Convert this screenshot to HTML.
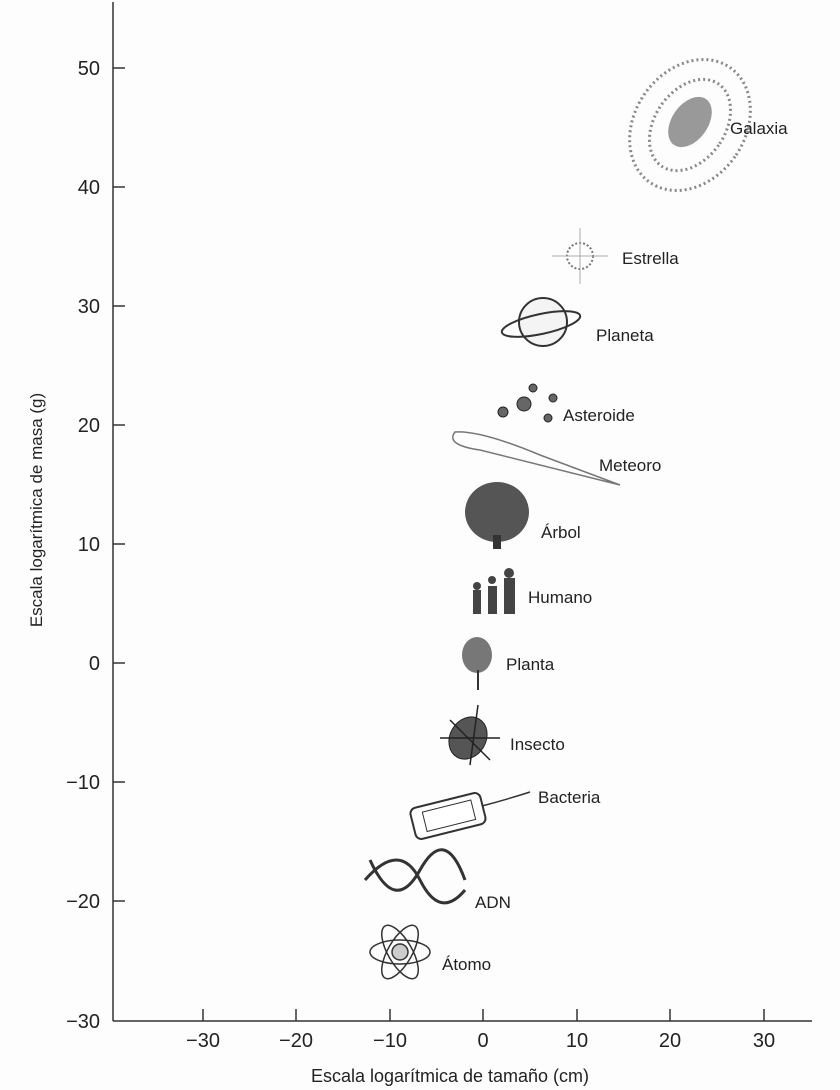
<!DOCTYPE html>
<html><head><meta charset="utf-8"><style>
html,body{margin:0;padding:0;background:#fff;}
svg{display:block;}
text{font-family:"Liberation Sans",sans-serif;fill:#222;}
</style></head><body>
<svg width="840" height="1090" viewBox="0 0 840 1090" xmlns="http://www.w3.org/2000/svg">
<rect width="840" height="1090" fill="#fdfdfd"/>
<g stroke="#333" stroke-width="1.5" fill="none">
<line x1="113" y1="2" x2="113" y2="1021"/>
<line x1="113" y1="1021" x2="812" y2="1021"/>
<line x1="113" y1="68" x2="125" y2="68"/>
<line x1="113" y1="187" x2="125" y2="187"/>
<line x1="113" y1="306" x2="125" y2="306"/>
<line x1="113" y1="425" x2="125" y2="425"/>
<line x1="113" y1="544" x2="125" y2="544"/>
<line x1="113" y1="663" x2="125" y2="663"/>
<line x1="113" y1="782" x2="125" y2="782"/>
<line x1="113" y1="901" x2="125" y2="901"/>
<line x1="203" y1="1021" x2="203" y2="1009"/>
<line x1="296" y1="1021" x2="296" y2="1009"/>
<line x1="390" y1="1021" x2="390" y2="1009"/>
<line x1="483" y1="1021" x2="483" y2="1009"/>
<line x1="577" y1="1021" x2="577" y2="1009"/>
<line x1="670" y1="1021" x2="670" y2="1009"/>
<line x1="764" y1="1021" x2="764" y2="1009"/>
</g>
<g font-size="20" text-anchor="end">
<text x="100" y="75">50</text>
<text x="100" y="194">40</text>
<text x="100" y="313">30</text>
<text x="100" y="432">20</text>
<text x="100" y="551">10</text>
<text x="100" y="670">0</text>
<text x="100" y="789">−10</text>
<text x="100" y="908">−20</text>
<text x="100" y="1028">−30</text>
</g>
<g font-size="20" text-anchor="middle">
<text x="203" y="1047">−30</text>
<text x="296" y="1047">−20</text>
<text x="390" y="1047">−10</text>
<text x="483" y="1047">0</text>
<text x="577" y="1047">10</text>
<text x="670" y="1047">20</text>
<text x="764" y="1047">30</text>
</g>
<text x="450" y="1082" font-size="18" text-anchor="middle">Escala logarítmica de tamaño (cm)</text>
<text transform="translate(42,510) rotate(-90)" font-size="17" text-anchor="middle">Escala logarítmica de masa (g)</text>

<!-- Galaxy -->
<g fill="none" stroke="#888" stroke-width="3" stroke-dasharray="2 3">
<ellipse cx="690" cy="125" rx="55" ry="70" transform="rotate(35 690 125)"/>
<ellipse cx="690" cy="125" rx="35" ry="50" transform="rotate(35 690 125)"/>
</g>
<ellipse cx="690" cy="122" rx="18" ry="28" transform="rotate(35 690 122)" fill="#999"/>
<text x="730" y="134" font-size="17">Galaxia</text>
<circle cx="580" cy="256" r="13" fill="#fff" stroke="#777" stroke-width="2" stroke-dasharray="2 2"/>
<path d="M580 228 V284 M552 256 H608" stroke="#aaa" stroke-width="1"/>
<text x="622" y="264" font-size="17">Estrella</text>
<circle cx="543" cy="322" r="24" fill="#f4f4f4" stroke="#333" stroke-width="2"/>
<ellipse cx="541" cy="324" rx="40" ry="10" transform="rotate(-12 541 324)" fill="none" stroke="#333" stroke-width="2"/>
<text x="596" y="341" font-size="17">Planeta</text>
<g fill="#666" stroke="#222">
<circle cx="524" cy="404" r="7"/><circle cx="503" cy="412" r="5"/><circle cx="533" cy="388" r="4"/><circle cx="553" cy="398" r="4"/><circle cx="548" cy="418" r="4"/>
</g>
<text x="563" y="421" font-size="17">Asteroide</text>
<path d="M455 432 Q445 445 480 450 L620 485 L540 455 Q480 430 455 432Z" fill="none" stroke="#777" stroke-width="1.5"/>
<text x="599" y="471" font-size="17">Meteoro</text>
<ellipse cx="497" cy="512" rx="32" ry="30" fill="#555"/>
<rect x="493" y="535" width="8" height="14" fill="#333"/>
<text x="541" y="538" font-size="17">Árbol</text>
<g fill="#444"><rect x="473" y="590" width="8" height="24"/><circle cx="477" cy="586" r="4"/>
<rect x="488" y="586" width="9" height="28"/><circle cx="492" cy="580" r="4"/>
<rect x="504" y="578" width="11" height="36"/><circle cx="509" cy="573" r="5"/></g>
<text x="528" y="603" font-size="17">Humano</text>
<ellipse cx="477" cy="655" rx="15" ry="18" fill="#777"/>
<line x1="478" y1="670" x2="478" y2="690" stroke="#333" stroke-width="2"/>
<text x="506" y="670" font-size="17">Planta</text>
<ellipse cx="468" cy="738" rx="18" ry="22" transform="rotate(30 468 738)" fill="#555" stroke="#222"/>
<g stroke="#222" stroke-width="1.5"><line x1="440" y1="738" x2="500" y2="738"/><line x1="450" y1="720" x2="490" y2="760"/><line x1="470" y1="765" x2="478" y2="705"/></g>
<text x="510" y="750" font-size="17">Insecto</text>
<rect x="412" y="800" width="72" height="32" rx="6" transform="rotate(-14 448 816)" fill="#fff" stroke="#333" stroke-width="2"/>
<rect x="424" y="806" width="50" height="20" transform="rotate(-14 448 816)" fill="none" stroke="#333"/>
<path d="M482 806 Q505 800 530 792" stroke="#333" fill="none" stroke-width="1.5"/>
<text x="538" y="803" font-size="17">Bacteria</text>
<path d="M365 880 Q400 840 420 880 T465 890" fill="none" stroke="#333" stroke-width="3"/>
<path d="M370 860 Q395 915 420 870 T465 880" fill="none" stroke="#333" stroke-width="3"/>
<text x="475" y="908" font-size="17">ADN</text>
<g fill="none" stroke="#333" stroke-width="1.5">
<ellipse cx="400" cy="952" rx="30" ry="12"/><ellipse cx="400" cy="952" rx="30" ry="12" transform="rotate(60 400 952)"/><ellipse cx="400" cy="952" rx="30" ry="12" transform="rotate(-60 400 952)"/>
<circle cx="400" cy="952" r="8" fill="#ccc"/></g>
<text x="442" y="970" font-size="17">Átomo</text>
</svg>
</body></html>
